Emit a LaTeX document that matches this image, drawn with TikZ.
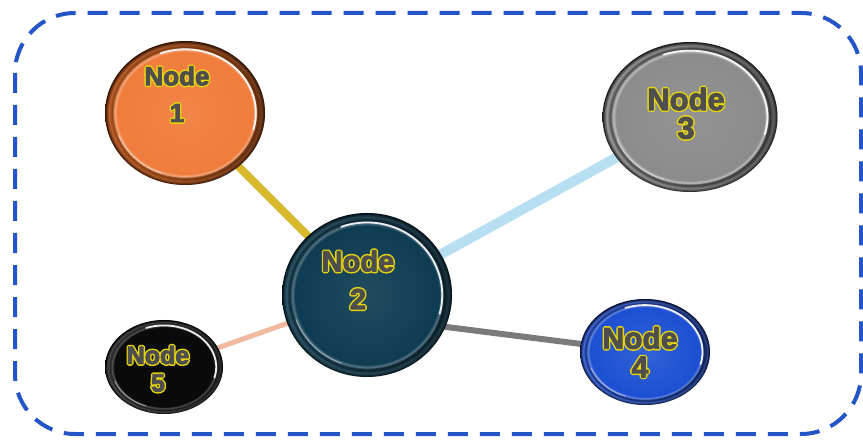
\documentclass[tikz,border=0pt]{standalone}
\usepackage{fontspec}
\setmainfont{Liberation Sans}
\usetikzlibrary{shapes.geometric,backgrounds,calc,fadings}

% palette
\definecolor{frameblue}{HTML}{2355C6}
\definecolor{txtgray}{HTML}{4E4E4E}
\definecolor{linkyellow}{HTML}{D7B92B}
\definecolor{linkblue}{HTML}{B8DEF2}
\definecolor{linkgray}{HTML}{7A7A7A}
\definecolor{linksalmon}{HTML}{F1B9A0}

\definecolor{oA}{HTML}{F07D3C}\definecolor{oB}{HTML}{9A4410}\definecolor{oC}{HTML}{3A1400}
\definecolor{tA}{HTML}{0E3C52}\definecolor{tB}{HTML}{082838}\definecolor{tC}{HTML}{02131C}
\definecolor{gA}{HTML}{8C8C8C}\definecolor{gB}{HTML}{4A4A4A}\definecolor{gC}{HTML}{1E1E1E}
\definecolor{bA}{HTML}{1C4FD2}\definecolor{bB}{HTML}{0E2C8A}\definecolor{bC}{HTML}{050F3A}
\definecolor{kA}{HTML}{0A0A0A}\definecolor{kB}{HTML}{202020}\definecolor{kC}{HTML}{000000}

% glossy disc: flat face, faint inner ring, bevelled rim
\pgfdeclareradialshading{orbO}{\pgfpoint{0bp}{0bp}}{color(0bp)=(oA!94!white);color(21.2bp)=(oA);color(22bp)=(white!35!oA);color(22.8bp)=(oB);color(23.8bp)=(oA!80!black);color(25bp)=(oC);color(50bp)=(oC)}
\pgfdeclareradialshading{orbT}{\pgfpoint{0bp}{0bp}}{color(0bp)=(tA!92!white);color(21.2bp)=(tA);color(22bp)=(white!30!tA);color(22.8bp)=(tB);color(23.8bp)=(tA!85!white);color(25bp)=(tC);color(50bp)=(tC)}
\pgfdeclareradialshading{orbG}{\pgfpoint{0bp}{0bp}}{color(0bp)=(gA!94!white);color(21.2bp)=(gA);color(22bp)=(white!45!gA);color(22.8bp)=(gB);color(23.8bp)=(gA!80!white);color(25bp)=(gC);color(50bp)=(gC)}
\pgfdeclareradialshading{orbB}{\pgfpoint{0bp}{0bp}}{color(0bp)=(bA!90!white);color(21.2bp)=(bA);color(22bp)=(white!35!bA);color(22.8bp)=(bB);color(23.8bp)=(bA!80!white);color(25bp)=(bC);color(50bp)=(bC)}
\pgfdeclareradialshading{orbK}{\pgfpoint{0bp}{0bp}}{color(0bp)=(kA);color(21.2bp)=(kA);color(22bp)=(white!35!black);color(22.8bp)=(kB);color(23.8bp)=(white!30!black);color(25bp)=(kC);color(50bp)=(kC)}

% grey lettering over a wide yellow outline of the same glyphs
\newcommand{\glowtext}[1]{\textcolor{txtgray}{%
  \rlap{\special{pdf:literal 1 Tr 3.8 w 1 j 0.91 0.84 0.05 RG}#1\special{pdf:literal 0 Tr}}%
  \special{pdf:literal 2 Tr 0.9 w 1 j 0.31 0.31 0.31 RG}#1\special{pdf:literal 0 Tr}}}

% darker rim on the right, sheen on the lower right of the inner edge
\newcommand{\rimlight}[3]{%
  \fill[black, path fading=west, fill opacity=0.4, even odd rule]
    (#1.center) ellipse ({#2pt} and {#3pt}) (#1.center) ellipse ({0.9*#2pt} and {0.9*#3pt});
  \draw[white, line width=1.8pt, opacity=0.9, line cap=round]
    ($(#1.center)+(-15:{0.885*#2pt} and {0.885*#3pt})$)
    arc[start angle=-15, end angle=110, x radius={0.885*#2pt}, y radius={0.885*#3pt}];
  \draw[white, line width=1pt, opacity=0.45, line cap=round]
    ($(#1.center)+(200:{0.885*#2pt} and {0.885*#3pt})$)
    arc[start angle=200, end angle=250, x radius={0.885*#2pt}, y radius={0.885*#3pt}];
}

\tikzset{
  orb/.style={ellipse, inner sep=0pt, shading=#1},
  lbl/.style={inner sep=0pt, anchor=center},
  link/.style={line width=#1, line cap=butt},
  frame/.style={draw=frameblue, line width=4pt, dash pattern=on 20pt off 12pt, rounded corners=60pt}
}

\begin{document}
\begin{tikzpicture}[x=1pt,y=-1pt]
\useasboundingbox (0,0) rectangle (863,441);

\draw[frame] (15,13) rectangle (861,434);

% discs
\node[orb=orbO, minimum width=160pt, minimum height=144pt] (n1) at (185,113) {};
\node[orb=orbT, minimum width=170pt, minimum height=164pt] (n2) at (367,295) {};
\node[orb=orbG, minimum width=175pt, minimum height=150pt] (n3) at (690,117) {};
\node[orb=orbB, minimum width=130pt, minimum height=106pt] (n4) at (645,352) {};
\node[orb=orbK, minimum width=118pt, minimum height=94pt] (n5) at (164,367) {};

\rimlight{n1}{80}{72}
\rimlight{n2}{85}{82}
\rimlight{n3}{87.5}{75}
\rimlight{n4}{65}{53}
\rimlight{n5}{59}{47}

% labels
\node[lbl, font=\bfseries\fontsize{26}{26}\selectfont] (t1a) at (177,76) {\glowtext{Node}};
\node[lbl, font=\bfseries\fontsize{26}{26}\selectfont] (t1b) at (177,113) {\glowtext{1}};
\node[lbl, font=\bfseries\fontsize{29}{29}\selectfont] (t2a) at (358,261) {\glowtext{Node}};
\node[lbl, font=\bfseries\fontsize{29}{29}\selectfont] (t2b) at (358,299) {\glowtext{2}};
\node[lbl, font=\bfseries\fontsize{31}{31}\selectfont] (t3a) at (686,99) {\glowtext{Node}};
\node[lbl, font=\bfseries\fontsize{31}{31}\selectfont] (t3b) at (686,128) {\glowtext{3}};
\node[lbl, font=\bfseries\fontsize{30}{30}\selectfont] (t4a) at (640,338) {\glowtext{Node}};
\node[lbl, font=\bfseries\fontsize{30}{30}\selectfont] (t4b) at (640,367) {\glowtext{4}};
\node[lbl, font=\bfseries\fontsize{25}{25}\selectfont] (t5a) at (158,355) {\glowtext{Node}};
\node[lbl, font=\bfseries\fontsize{25}{25}\selectfont] (t5b) at (158,383) {\glowtext{5}};

% connectors, behind the discs
\begin{pgfonlayer}{background}
\fill[white] (0,0) rectangle (863,441);
\draw[link=8pt, linkyellow] (n1.center) -- (n2.center);
\draw[link=10pt, linkblue] (n2.center) -- (n3.center);
\draw[link=6pt, linkgray] ($(n2.center)+(0,22)$) -- (n4.center);
\draw[link=5pt, linksalmon] (n2.center) -- (n5.center);
\end{pgfonlayer}
\end{tikzpicture}
\end{document}
